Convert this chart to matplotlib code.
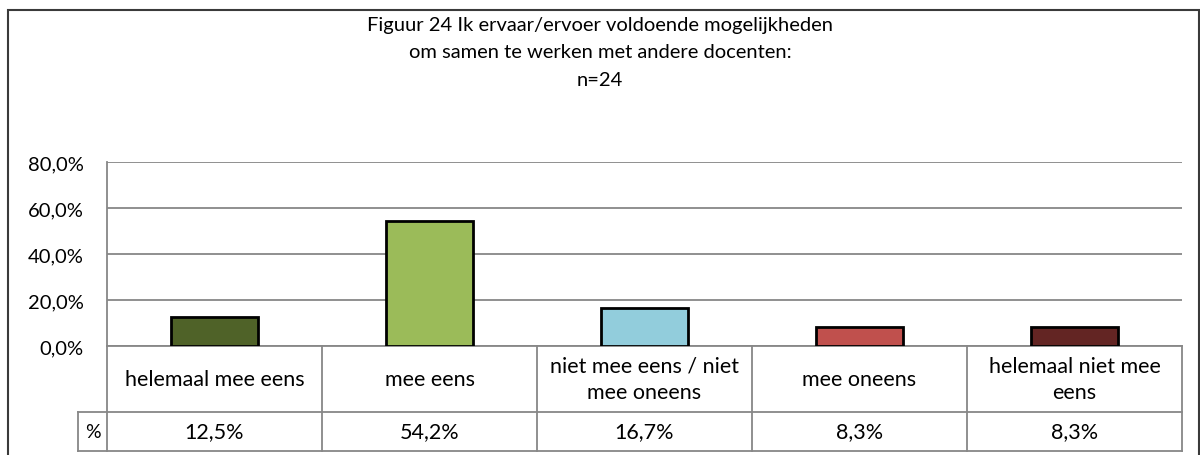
import matplotlib.pyplot as plt
from matplotlib.patches import Rectangle
from matplotlib.ticker import FuncFormatter
import matplotlib.transforms as mtrans

categories = ["helemaal mee eens", "mee eens", "niet mee eens / niet\nmee oneens",
              "mee oneens", "helemaal niet mee\neens"]
values = [0.125, 0.542, 0.167, 0.083, 0.083]
value_labels = ["12,5%", "54,2%", "16,7%", "8,3%", "8,3%"]
colors = ["#4F6228", "#9BBB59", "#92CDDC", "#C0504D", "#632523"]
title = "Figuur 24 Ik ervaar/ervoer voldoende mogelijkheden\nom samen te werken met andere docenten:\nn=24"

plt.rcParams['font.family'] = ['Lato', 'DejaVu Sans']
W, H = 1200, 456
fig = plt.figure(figsize=(12, 4.56), dpi=100)

# outer chart border
fig.patches.append(Rectangle((7.5 / W, -0.1), (W - 8.5) / W, 1.1 - 11 / H,
                             transform=fig.transFigure, fill=False,
                             edgecolor="#3a3a3a", linewidth=1.5))

fig.text(0.5, 1 - 53 / H, title, ha="center", va="center", fontsize=14.5,
         linespacing=1.78)

ax = fig.add_axes([107 / W, 1 - 347 / H, (1182 - 107) / W, (347 - 163) / H])
n = len(categories)
x = range(n)
ax.bar(x, values, width=0.405, color=colors, edgecolor="black", linewidth=2, zorder=3)
ax.set_xlim(-0.5, n - 0.5)
ax.set_ylim(0, 0.8)
ax.set_yticks([0, 0.2, 0.4, 0.6, 0.8])
ax.yaxis.set_major_formatter(FuncFormatter(lambda v, p: f"{v*100:.1f}%".replace(".", ",")))
ax.grid(axis="y", color="#878787", linewidth=1.3)
ax.set_axisbelow(True)
ax.tick_params(axis="y", length=0, labelsize=14.5, pad=17)
ax.tick_params(axis="x", bottom=False, labelbottom=False)
for s in ["top", "right", "bottom"]:
    ax.spines[s].set_visible(False)
ax.spines["left"].set_color("#878787")
ax.spines["left"].set_linewidth(1.3)

# data table under the plot
tr = mtrans.blended_transform_factory(ax.transData, ax.transAxes)
ph = 347 - 163
r1 = -(413 - 347) / ph
r2 = -(452 - 347) / ph
pct_left = -0.5 - (107 - 78) / ((1182 - 107) / n)
lc = dict(color="#878787", linewidth=1.3, clip_on=False, transform=tr)
ax.plot([-0.5, n - 0.5], [0, 0], **lc)
ax.plot([pct_left, n - 0.5], [r1, r1], **lc)
ax.plot([pct_left, n - 0.5], [r2, r2], **lc)
ax.plot([pct_left, pct_left], [r1, r2], **lc)
for b in range(n + 1):
    ax.plot([b - 0.5, b - 0.5], [0, r2], **lc)
for i in x:
    ax.text(i, r1 / 2, categories[i], ha="center", va="center", fontsize=15.5,
            transform=tr, linespacing=1.42)
    ax.text(i, (r1 + r2) / 2, value_labels[i], ha="center", va="center",
            fontsize=15.5, transform=tr)
ax.text((pct_left - 0.5) / 2, (r1 + r2) / 2, "%", ha="center", va="center",
        fontsize=14, transform=tr)

fig.savefig("out.png", dpi=100)
